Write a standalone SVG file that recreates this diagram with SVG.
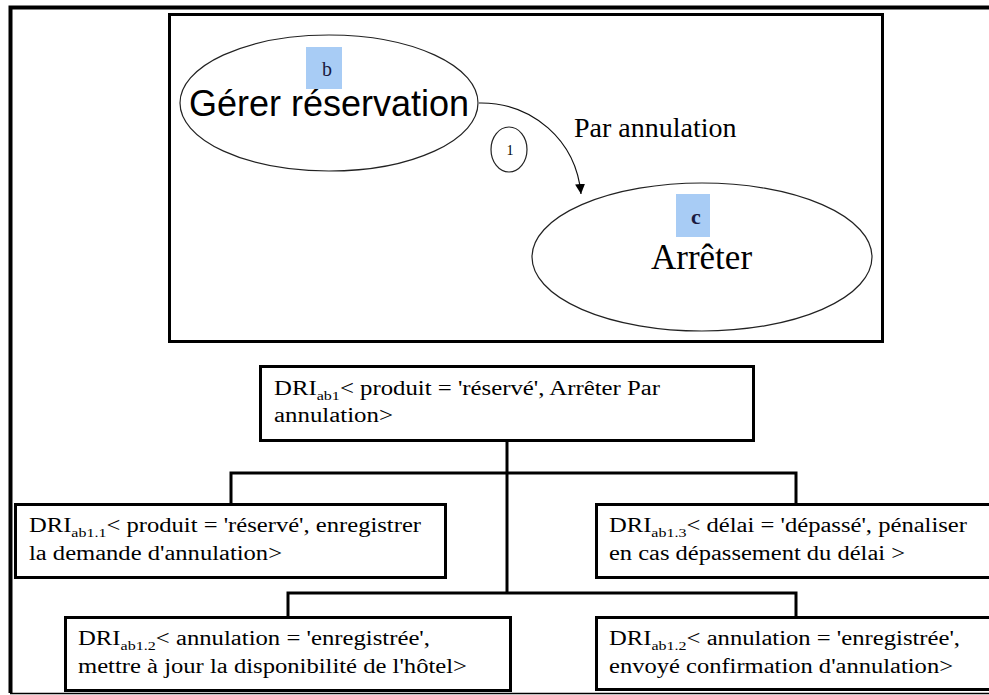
<svg xmlns="http://www.w3.org/2000/svg" width="989" height="695" viewBox="0 0 989 695">
<style>
.frame{fill:none;stroke:#000;stroke-width:3}
.ell{fill:#fff;stroke:#222;stroke-width:1.2}
.box{fill:#fff;stroke:#000;stroke-width:3}
.conn{fill:none;stroke:#000;stroke-width:3}
.edge{fill:none;stroke:#111;stroke-width:1.2}
.dri{font-size:20px;fill:#000}
.sub{font-size:13px}
.tag{fill:#a8ccf5}
</style>
<defs>
<marker id="arr" markerWidth="12" markerHeight="12" refX="10" refY="5" orient="auto" markerUnits="userSpaceOnUse">
<path d="M0,0 L10,5 L0,10 Z" fill="#000"/>
</marker>
</defs>
<rect width="989" height="695" fill="#fff"/>
<g id="outer-frame">
<path d="M995,7.5 H10.5 V693" fill="none" stroke="#000" stroke-width="4"/>
<line x1="10" y1="693.5" x2="995" y2="693.5" stroke="#000" stroke-width="1.5"/>
</g>
<g id="inner-frame">
<rect class="frame" x="169.5" y="14.5" width="713" height="327"/>
</g>
<g id="connectors">
<path class="edge" d="M479,103 C532,102 576,140 581,194" marker-end="url(#arr)"/>
<path class="conn" d="M507,442 V593"/>
<path class="conn" d="M231,503 V473 H796 V503"/>
<path class="conn" d="M288,616 V593 H796 V616"/>
</g>
<g font-family="Liberation Serif, Times New Roman, serif">
<g id="node-gerer">
<ellipse class="ell" cx="329" cy="103" rx="149" ry="68"/>
<rect class="tag" x="306" y="47" width="36" height="42"/>
<text x="327" y="76" font-size="20" text-anchor="middle" fill="#1a1a40">b</text>
<text x="189" y="116" font-family="Liberation Sans, Arial, sans-serif" font-size="36">Gérer réservation</text>
</g>
<g id="node-1">
<ellipse class="ell" cx="509" cy="149.5" rx="18" ry="22.5"/>
<text x="510" y="155" font-size="14" text-anchor="middle">1</text>
</g>
<g id="edge-label">
<text x="574" y="137" font-size="28">Par annulation</text>
</g>
<g id="node-arreter">
<ellipse class="ell" cx="702" cy="257" rx="170" ry="74"/>
<rect class="tag" x="676" y="194" width="34" height="43"/>
<text x="696" y="224" font-size="22" font-weight="bold" text-anchor="middle" fill="#1a1a40">c</text>
<text x="651" y="269" font-size="35">Arrêter</text>
</g>
<g id="dri-ab1">
<rect class="box" x="260.5" y="366.5" width="493" height="74"/>
<text class="dri" x="274" y="395" textLength="386" lengthAdjust="spacingAndGlyphs">DRI<tspan class="sub" dy="5">ab1</tspan><tspan dy="-5">&lt; produit = 'réservé', Arrêter  Par</tspan></text>
<text class="dri" x="274" y="422" textLength="119" lengthAdjust="spacingAndGlyphs">annulation&gt;</text>
</g>
<g id="dri-ab1-1">
<rect class="box" x="15.5" y="504.5" width="430" height="73"/>
<text class="dri" x="29" y="532" textLength="392" lengthAdjust="spacingAndGlyphs">DRI<tspan class="sub" dy="5">ab1.1</tspan><tspan dy="-5">&lt; produit = 'réservé', enregistrer</tspan></text>
<text class="dri" x="29" y="560" textLength="253" lengthAdjust="spacingAndGlyphs">la demande d'annulation&gt;</text>
</g>
<g id="dri-ab1-3">
<rect class="box" x="596.5" y="504.5" width="420" height="73"/>
<text class="dri" x="609" y="532" textLength="358" lengthAdjust="spacingAndGlyphs">DRI<tspan class="sub" dy="5">ab1.3</tspan><tspan dy="-5">&lt; délai = 'dépassé', pénaliser</tspan></text>
<text class="dri" x="609" y="560" textLength="296" lengthAdjust="spacingAndGlyphs">en cas dépassement du délai &gt;</text>
</g>
<g id="dri-ab1-2-left">
<rect class="box" x="65.5" y="617.5" width="445" height="73"/>
<text class="dri" x="78" y="645" textLength="352" lengthAdjust="spacingAndGlyphs">DRI<tspan class="sub" dy="5">ab1.2</tspan><tspan dy="-5">&lt; annulation = 'enregistrée',</tspan></text>
<text class="dri" x="78" y="673" textLength="389" lengthAdjust="spacingAndGlyphs">mettre à jour la disponibilité de l'hôtel&gt;</text>
</g>
<g id="dri-ab1-2-right">
<rect class="box" x="596.5" y="617.5" width="420" height="72"/>
<text class="dri" x="609" y="645" textLength="351" lengthAdjust="spacingAndGlyphs">DRI<tspan class="sub" dy="5">ab1.2</tspan><tspan dy="-5">&lt; annulation = 'enregistrée',</tspan></text>
<text class="dri" x="609" y="673" textLength="344" lengthAdjust="spacingAndGlyphs">envoyé confirmation d'annulation&gt;</text>
</g>
</g>
</svg>
